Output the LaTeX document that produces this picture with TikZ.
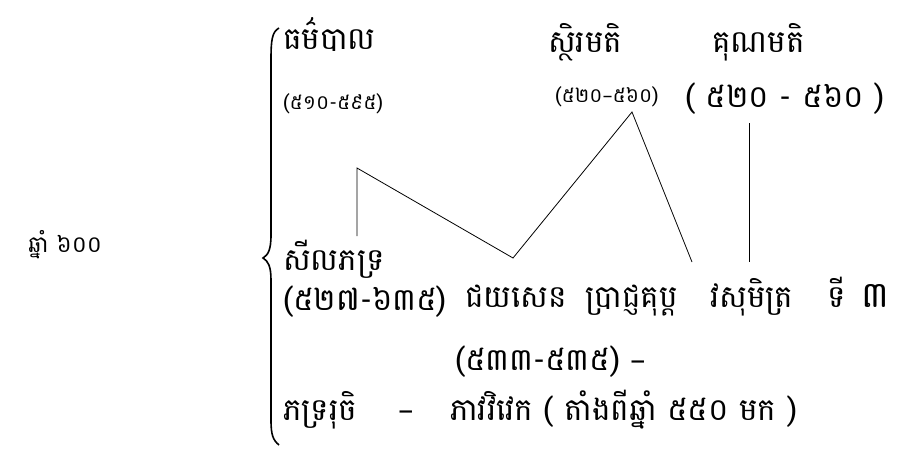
\documentclass[tikz,border=0pt]{standalone}
\usepackage{fontspec}
\newfontfamily\khmer[Script=Khmer]{Battambang}
\newfontfamily\latin{DejaVu Sans}
\usetikzlibrary{positioning}

\begin{document}
\begin{tikzpicture}[x=1pt, y=-1pt,
    person/.style={font=\khmer\fontsize{31}{36}\selectfont, inner sep=0pt, anchor=base west},
    smallyear/.style={font=\khmer\fontsize{20}{24}\selectfont, inner sep=0pt, anchor=base west},
    bigyear/.style={font=\khmer\fontsize{31}{36}\selectfont, inner sep=0pt, anchor=base west},
    lineage/.style={line width=0.8pt}]
    \useasboundingbox (0,0) rectangle (911,455);

    % Year on the left
    \node[person, font=\khmer\fontsize{23}{28}\selectfont] (year) at (28,252) {ឆ្នាំ ៦០០};

    % Upper row
    \node[person] (dhammapala) at (283,49) {ធម៌បាល};
    \node[smallyear] (dhammapalaY) at (283,109) {(៥១០-៥៩៥)};
    \node[person] (sthiramati) at (548,52) {ស្ថិរមតិ};
    \node[smallyear] (sthiramatiY) at (555,102) {(៥២០{\latin–}៥៦០)};
    \node[person] (gunamati) at (712,52) {គុណមតិ};
    \node[bigyear] (gunamatiY) at (685,107) {( ៥២០ - ៥៦០ )};

    % Middle row
    \node[person] (silabhadra) at (283,270) {សីលភទ្រ};
    \node[bigyear] (silabhadraY) at (283,310) {(៥២៧-៦៣៥)};
    \node[person] (jayasena) at (465,307) {ជយសេន};
    \node[person] (prajnagupta) at (585,307) {ប្រាជ្ញគុប្ត};
    \node[person] (vasumitra) at (710,307) {វសុមិត្រ\hspace{34pt}ទី\hspace{16pt}{\fontsize{36}{40}\selectfont ៣}};
    \node[bigyear] (jayasenaY) at (455,370) {(៥៣៣-៥៣៥) {\latin–}};

    % Lower row
    \node[person] (bhadraruci) at (283,420) {ភទ្ររុចិ};
    \node[person] (sep) at (398,420) {\latin–};
    \node[person] (bhavaviveka) at (450,420) {ភាវវិវេក ( តាំងពីឆ្នាំ ៥៥០ មក )};

    % Brace
    \draw[line width=1.6pt] (279,28) .. controls (272,32) and (271,40) .. (271,60)
        -- (271,235) .. controls (271,250) and (268,255) .. (263,258)
        .. controls (268,261) and (271,266) .. (271,280)
        -- (271,420) .. controls (271,435) and (273,440) .. (279,445);

    % Lines of descent
    \coordinate (z1) at (357,236);
    \coordinate (z2) at (357,168);
    \coordinate (z3) at (513,258);
    \coordinate (z4) at (632,112);
    \coordinate (z5) at (692,262);
    \draw[lineage] (z1) -- (z2) -- (z3) -- (z4) -- (z5);
    \coordinate (v1) at (749,123);
    \coordinate (v2) at (749,262);
    \draw[lineage] (v1) -- (v2);
\end{tikzpicture}
\end{document}
